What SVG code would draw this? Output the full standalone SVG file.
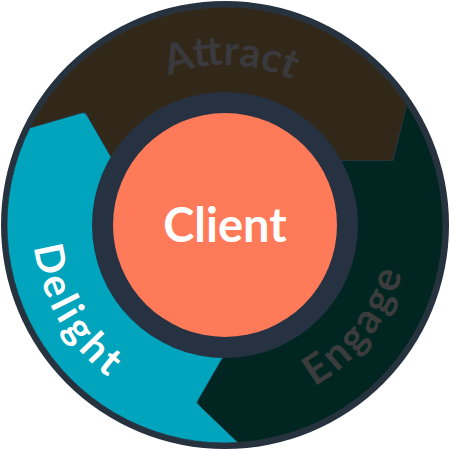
<svg xmlns="http://www.w3.org/2000/svg" width="450" height="450" viewBox="0 0 450 450">
<style>
.seg{stroke:#2c3540;stroke-width:0.8;stroke-linejoin:round}
.lbl{font-family:Lato,"Open Sans","DejaVu Sans",sans-serif;font-weight:bold}
</style>
<defs>
<path id="pAttract" d="M 68.5 191.7 A 160 160 0 0 1 383.4 202.7"/>
<path id="pDelight" d="M 58.7 129 A 192 192 0 0 0 225 417"/>
<path id="pEngage" d="M 200.9 408.4 A 184 184 0 0 0 394.1 155"/>
</defs>
<circle id="outer-ring" cx="225" cy="225" r="224" fill="#27323f"/>
<g id="delight">
<path class="seg" fill="#00a4bd" d="M 238.3 442.6 A 218 218 0 0 1 29.9 127.7 L 80.3 113.1 Q 85.1 111.7 87.6 116 L 112.1 158.5 A 131 131 0 0 0 223.9 356 L 196.8 402.8 Z"/>
<text class="lbl" font-size="40" fill="#ffffff" letter-spacing="4"><textPath href="#pDelight" startOffset="50%" text-anchor="middle">Delight</textPath></text>
</g>
<g id="attract">
<path class="seg" fill="#32281a" d="M 29.9 127.7 A 218 218 0 0 1 406.8 104.7 L 394.2 155.65 Q 393 160.5 388 160.5 L 339 160.5 A 131 131 0 0 0 112.1 158.5 L 85.1 111.7 Z"/>
<text class="lbl" font-size="41" fill="#3a3a3e"><textPath href="#pAttract" startOffset="50%" text-anchor="middle">Attract</textPath></text>
</g>
<g id="engage">
<path class="seg" fill="#012622" d="M 406.8 104.7 A 218 218 0 0 1 238.3 442.6 L 200.4 406.3 Q 196.8 402.8 199.3 398.5 L 223.9 356 A 131 131 0 0 0 339 160.5 L 393 160.5 Z"/>
<text class="lbl" font-size="41" fill="#3c3c3c" letter-spacing="3"><textPath href="#pEngage" startOffset="50%" text-anchor="middle">Engage</textPath></text>
</g>
<g id="client">
<circle cx="225" cy="225" r="133" fill="#263241"/>
<circle cx="225" cy="225" r="112" fill="#ff7a59"/>
<text class="lbl" x="225" y="242" font-size="47" fill="#ffffff" text-anchor="middle">Client</text>
</g>
<g id="connectors"/>
</svg>
